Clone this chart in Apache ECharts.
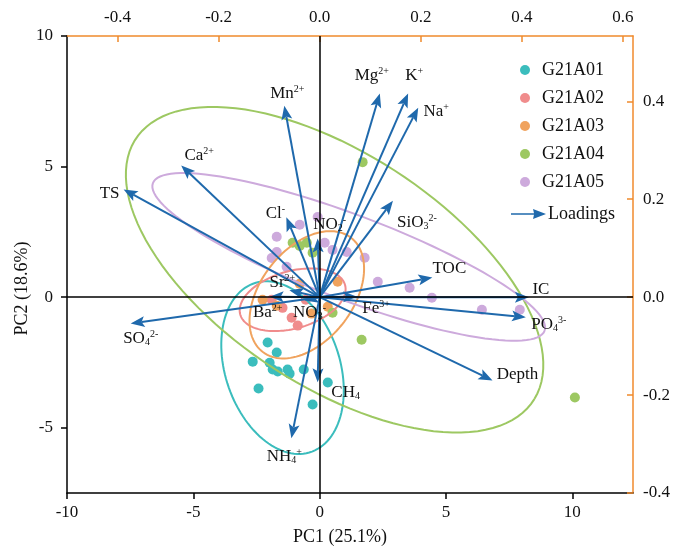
<!DOCTYPE html>
<html>
<head>
<meta charset="utf-8">
<script src="https://cdn.jsdelivr.net/npm/echarts@6/dist/echarts.min.js"></script>
<style>html,body{margin:0;background:#fff}#main{width:691px;height:556px}</style>
</head>
<body>
<div id="main"></div>
<script>
// PCA scores (PC1, PC2)
var groups = ['G21A01', 'G21A02', 'G21A03', 'G21A04', 'G21A05'];
var groupColors = ['#3BBDBD', '#F08C8C', '#F0A35E', '#9DC862', '#CDAADC'];

var scoresG21A01 = [[-2.06,-1.74],[-1.70,-2.12],[-2.65,-2.47],[-1.98,-2.51],[-1.86,-2.77],[-1.66,-2.85],
  [-1.27,-2.77],[-1.19,-2.93],[-0.63,-2.77],[0.32,-3.27],[-2.42,-3.50],[-0.28,-4.11]];
var scoresG21A02 = [[-0.87,-1.09],[-1.47,-0.41],[-1.90,-0.10],[-1.11,-0.79],[-0.55,-0.10]];
var scoresG21A03 = [[-2.26,-0.10],[-1.70,-0.33],[0.71,0.59],[0.32,-0.37],[-0.32,-0.63],[-0.79,0.51]];
var scoresG21A04 = [[1.70,5.17],[10.10,-3.84],[1.66,-1.63],[-1.07,2.08],[-0.79,1.96],[-0.51,2.08],
  [0.51,-0.60],[-0.28,1.70]];
var scoresG21A05 = [[-0.79,2.77],[-0.08,3.07],[-1.70,2.31],[-1.70,1.73],[-1.90,1.50],[-1.31,1.16],
  [0.20,2.08],[0.51,1.81],[1.07,1.73],[1.78,1.51],[2.30,0.59],[3.56,0.36],[4.44,-0.02],[6.42,-0.48],[7.92,-0.48]];
var scores = [scoresG21A01, scoresG21A02, scoresG21A03, scoresG21A04, scoresG21A05];

// confidence ellipses: centre (PC1, PC2), semi-axes, rotation (deg)
var ellipseCenter = [[-1.47,-2.70],[-1.07,-0.10],[-0.51,0.09],[0.59,1.05],[1.15,1.54]];
var ellipseAxes = [[3.42,2.26],[2.15,1.10],[2.80,1.80],[9.33,4.48],[8.25,1.63]];
var ellipseAngle = [-70, 15, 50, -32, -20];

// loadings (top / right axes)
var loadingNames = ['TS','Ca2+','Mn2+','Cl-','NO2-','Mg2+','K+','Na+','SiO32-','TOC','IC','PO43-',
  'Fe3+','Depth','CH4','NH4+','SO42-','Sr2+','Ba2+','NO3-'];
var loadingX = [-0.388,-0.274,-0.070,-0.066,-0.004,0.119,0.175,0.195,0.145,0.223,0.414,0.408,
  0.074,0.342,-0.004,-0.056,-0.374,-0.060,-0.099,-0.030];
var loadingY = [0.220,0.269,0.391,0.163,0.120,0.416,0.416,0.387,0.197,0.040,0.000,-0.041,
  0.001,-0.170,-0.174,-0.288,-0.054,0.014,0.001,-0.007];

// label text (rich) and where it sits relative to the arrow tip, px
var loadingLabels = ['TS','Ca{sup|2+}','Mn{sup|2+}','Cl{sup|-}','NO{sub|2}{sup|-}','Mg{sup|2+}','K{sup|+}',
  'Na{sup|+}','SiO{sub|3}{sup|2-}','TOC','IC','PO{sub|4}{sup|3-}','Fe{sup|3+}','Depth','CH{sub|4}',
  'NH{sub|4}{sup|+}','SO{sub|4}{sup|2-}','Sr{sup|2+}','Ba{sup|2+}','NO{sub|3}{sup|-}'];
var labelOffset = [[-14,4],[18,-10],[3,-12],[-11,-4],[12,-14],[-8,-18],[6,-18],[18,4],[24,22],[17,-9],
  [12,-8],[23,7],[19,12],[25,-6],[28,10],[-7,18],[10,15],[-7,-8],[-2,16],[5,12]];

var serif = '"Liberation Serif", "Times New Roman", serif';
var arrowColor = '#1F69AC';
var orange = '#F08A2C';

var richStyle = {
  sup: { fontSize: 10, fontFamily: serif, verticalAlign: 'top', lineHeight: 10, fill: '#111' },
  sub: { fontSize: 10, fontFamily: serif, verticalAlign: 'bottom', lineHeight: 10, fill: '#111' }
};

var series = [];
groups.forEach(function (g, i) {
  var s = {
    name: g,
    type: 'scatter',
    xAxisIndex: 0, yAxisIndex: 0,
    symbolSize: 10,
    itemStyle: { color: groupColors[i], opacity: 1 },
    data: scores[i],
    z: 2
  };
  if (i === 0) {
    s.markLine = {
      silent: true, symbol: ['none', 'none'], animation: false,
      label: { show: false },
      lineStyle: { color: '#000', width: 1.5, type: 'solid' },
      data: [{ xAxis: 0 }, { yAxis: 0 }]
    };
  }
  series.push(s);
});

// ellipses
series.push({
  name: 'ellipses',
  type: 'custom',
  xAxisIndex: 0, yAxisIndex: 0,
  z: 3,
  silent: true,
  data: ellipseCenter.map(function (c, i) { return [c[0], c[1], i]; }),
  renderItem: function (params, api) {
    var i = params.dataIndex;
    var c = ellipseCenter[i], ax = ellipseAxes[i], t = ellipseAngle[i] * Math.PI / 180;
    var pts = [];
    for (var k = 0; k <= 120; k++) {
      var a = k / 120 * Math.PI * 2;
      var ex = ax[0] * Math.cos(a), ey = ax[1] * Math.sin(a);
      pts.push(api.coord([c[0] + ex * Math.cos(t) - ey * Math.sin(t), c[1] + ex * Math.sin(t) + ey * Math.cos(t)]));
    }
    return {
      type: 'polyline',
      shape: { points: pts },
      style: { stroke: groupColors[i], lineWidth: 2, fill: null }
    };
  }
});

// loading arrows
series.push({
  name: 'Loadings',
  type: 'custom',
  xAxisIndex: 1, yAxisIndex: 1,
  z: 4,
  itemStyle: { color: arrowColor },
  data: loadingX.map(function (x, i) { return [x, loadingY[i], i]; }),
  renderItem: function (params, api) {
    var i = params.dataIndex;
    var o = api.coord([0, 0]);
    var p = api.coord([api.value(0), api.value(1)]);
    var dx = p[0] - o[0], dy = p[1] - o[1];
    var len = Math.sqrt(dx * dx + dy * dy) || 1;
    var ux = dx / len, uy = dy / len;
    var hl = 14, hw = 5.5, notch = 3;
    var bx = p[0] - ux * hl, by = p[1] - uy * hl;
    var nx = p[0] - ux * (hl - notch), ny = p[1] - uy * (hl - notch);
    var children = [];
    children.push({
      type: 'line',
      shape: { x1: o[0], y1: o[1], x2: nx, y2: ny },
      style: { stroke: arrowColor, lineWidth: 2 }
    });
    children.push({
      type: 'polygon',
      shape: { points: [p, [bx - uy * hw, by + ux * hw], [nx, ny], [bx + uy * hw, by - ux * hw]] },
      style: { fill: arrowColor }
    });
    children.push({
      type: 'text',
      x: p[0] + labelOffset[i][0],
      y: p[1] + labelOffset[i][1],
      z2: 10,
      style: {
        text: loadingLabels[i],
        fontSize: 17, fontFamily: serif, fill: '#111', lineHeight: 18,
        align: 'center', verticalAlign: 'middle',
        rich: richStyle
      }
    });
    return { type: 'group', children: children };
  }
});

var baseLabel = { color: '#111', fontSize: 17, fontFamily: serif };

var option = {
  animation: false,
  backgroundColor: '#fff',
  grid: { left: 67, right: 58, top: 36, bottom: 63, containLabel: false },
  legend: [{
    data: groups,
    orient: 'vertical',
    left: 515, top: 55,
    icon: 'circle',
    itemWidth: 24, itemHeight: 10, itemGap: 8,
    selectedMode: false,
    textStyle: { fontSize: 18, fontFamily: serif, color: '#111', lineHeight: 20 }
  }, {
    data: ['Loadings'],
    left: 506, top: 199,
    icon: 'path://M0,4.2 L23,4.2 L22,0 L35,5 L22,10 L23,5.8 L0,5.8 Z',
    itemWidth: 35, itemHeight: 10, itemGap: 3,
    selectedMode: false,
    textStyle: { fontSize: 18, fontFamily: serif, color: '#111', lineHeight: 20, padding: [0, 0, 0, -3] }
  }],
  xAxis: [{
    type: 'value', position: 'bottom', min: -10, max: 12.4,
    name: 'PC1 (25.1%)', nameLocation: 'middle', nameGap: 35, nameMoveOverlap: false,
    nameTextStyle: { fontSize: 18, fontFamily: serif, color: '#111', padding: [0, 20, 0, 0] },
    axisLine: { show: true, onZero: false, lineStyle: { color: '#000', width: 1.5 } },
    axisTick: { show: true, inside: false, length: 6, customValues: [-10, -5, 0, 5, 10], lineStyle: { color: '#000', width: 1.5 } },
    axisLabel: Object.assign({ margin: 11, customValues: [-10, -5, 0, 5, 10] }, baseLabel),
    splitLine: { show: false }
  }, {
    type: 'value', position: 'top', min: -0.5, max: 0.62,
    axisLine: { show: true, onZero: false, lineStyle: { color: orange, width: 1.5 } },
    axisTick: { show: true, inside: true, length: 6, customValues: [-0.4, -0.2, 0, 0.2, 0.4, 0.6], lineStyle: { color: orange, width: 1.5 } },
    axisLabel: Object.assign({ margin: 10, customValues: [-0.4, -0.2, 0, 0.2, 0.4, 0.6],
      formatter: function (v) { return v.toFixed(1); } }, baseLabel),
    splitLine: { show: false }
  }],
  yAxis: [{
    type: 'value', position: 'left', min: -7.5, max: 10,
    name: 'PC2 (18.6%)', nameLocation: 'middle', nameGap: 36, nameMoveOverlap: false,
    nameTextStyle: { fontSize: 18, fontFamily: serif, color: '#111', padding: [0, 48, 0, 0] },
    axisLine: { show: true, onZero: false, lineStyle: { color: '#000', width: 1.5 } },
    axisTick: { show: true, inside: false, length: 6, customValues: [-5, 0, 5, 10], lineStyle: { color: '#000', width: 1.5 } },
    axisLabel: Object.assign({ margin: 14, customValues: [-5, 0, 5, 10] }, baseLabel),
    splitLine: { show: false }
  }, {
    type: 'value', position: 'right', min: -0.4, max: 0.4 * 10 / 7.5,
    axisLine: { show: true, onZero: false, lineStyle: { color: orange, width: 1.5 } },
    axisTick: { show: true, inside: true, length: 6, customValues: [-0.4, -0.2, 0, 0.2, 0.4], lineStyle: { color: orange, width: 1.5 } },
    axisLabel: Object.assign({ margin: 10, customValues: [-0.4, -0.2, 0, 0.2, 0.4],
      formatter: function (v) { return v.toFixed(1); } }, baseLabel),
    splitLine: { show: false }
  }],
  series: series
};

var chart = echarts.init(document.getElementById('main'));
chart.setOption(option);
</script>
</body>
</html>
